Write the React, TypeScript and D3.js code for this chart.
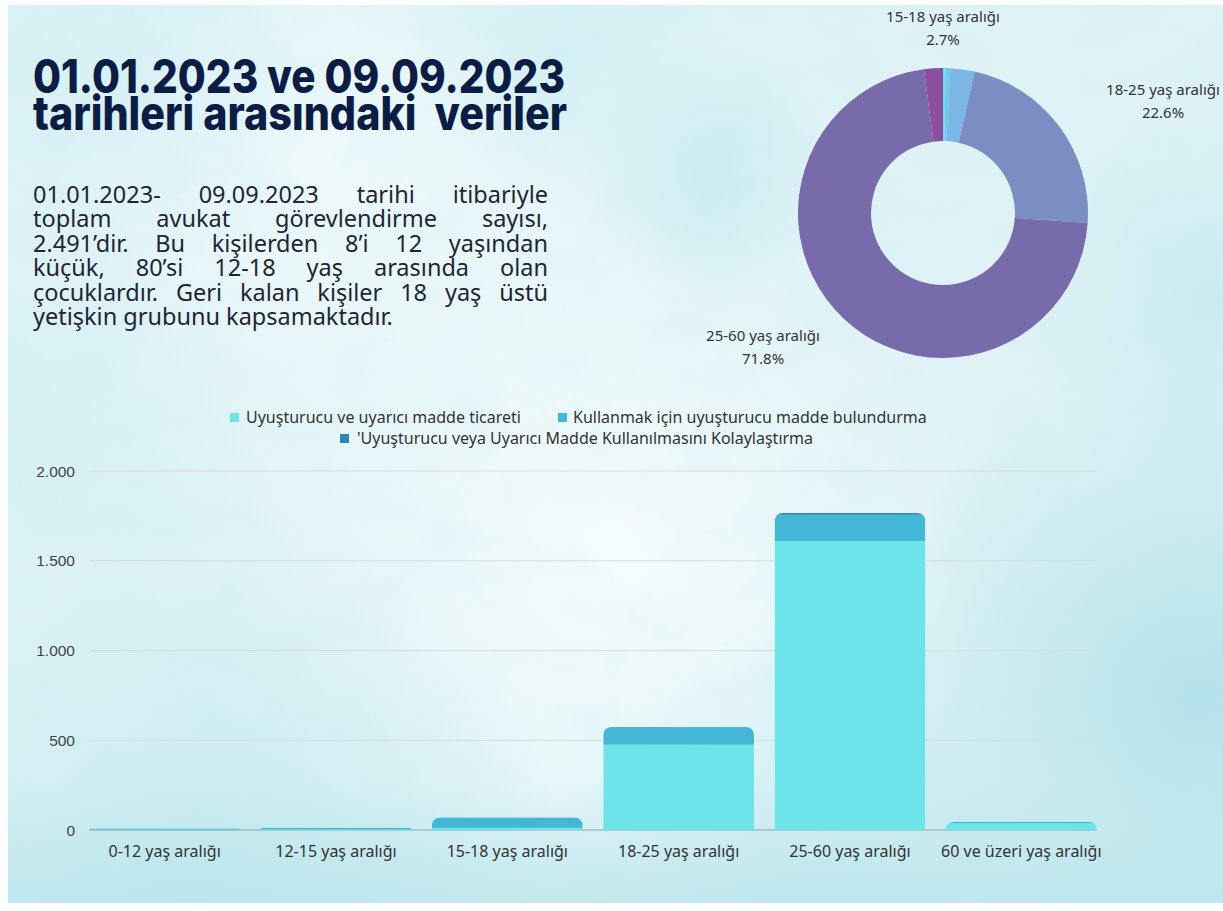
import React from "react";
import * as d3 from "d3";

// bar chart data
const categories = ["0-12 yaş aralığı", "12-15 yaş aralığı", "15-18 yaş aralığı", "18-25 yaş aralığı", "25-60 yaş aralığı", "60 ve üzeri yaş aralığı"];
const ticaret = [3, 4, 12, 475, 1610, 38];
const bulundurma = [5, 9, 56, 96, 146, 7];
const kolaylastirma = [0, 0, 2, 3, 10, 0];
const seriesNames = ["Uyuşturucu ve uyarıcı madde ticareti", "Kullanmak için uyuşturucu madde bulundurma", "'Uyuşturucu veya Uyarıcı Madde Kullanılmasını Kolaylaştırma"];
const yTicks = [0, 500, 1000, 1500, 2000];

// donut data (percent)
const pieLabels = ["0-12 yaş aralığı", "12-15 yaş aralığı", "15-18 yaş aralığı", "18-25 yaş aralığı", "25-60 yaş aralığı", "60 ve üzeri yaş aralığı"];
const pieShares = [0.3, 0.5, 2.7, 22.6, 71.8, 2.1];

const titleLines = ["01.01.2023 ve 09.09.2023", "tarihleri arasındaki  veriler"];
const paragraph = [
  "01.01.2023- 09.09.2023  tarihi itibariyle",
  "toplam avukat görevlendirme sayısı,",
  "2.491’dir. Bu kişilerden 8’i 12 yaşından",
  "küçük, 80’si 12-18 yaş arasında olan",
  "çocuklardır. Geri kalan kişiler 18 yaş üstü",
  "yetişkin grubunu kapsamaktadır.",
];

const barColors = ["#6ce4e8", "#42b8d6", "#2c86b6"];
const pieColors = ["#5fe2ee", "#6fc9ee", "#7ab7e6", "#7b8ec3", "#786bab", "#8c4f9f"];

const W = 1223, H = 911;
const fmt = d3.formatLocale({ decimal: ",", thousands: ".", grouping: [3], currency: ["", ""] }).format(",");

function measure(words: string[], font: string) {
  const c = document.createElement("canvas").getContext("2d")!;
  c.font = font;
  return words.map(w => c.measureText(w).width);
}

function Paragraph() {
  const fs = 23.5, x0 = 33, x1 = 548, y0 = 203, lh = 24.4;
  const font = `${fs}px "Noto Sans"`;
  return (
    <g fill="#1e2636" style={{ font }}>
      {paragraph.map((line, i) => {
        const words = line.split(/\s+/);
        const last = i === paragraph.length - 1;
        const ws = measure(words, font);
        const total = d3.sum(ws);
        const gap = last ? fs * 0.26 : (x1 - x0 - total) / (words.length - 1);
        let x = x0;
        return words.map((w, j) => {
          const el = <text key={i + "-" + j} x={x} y={y0 + i * lh}>{w}</text>;
          x += ws[j] + gap;
          return el;
        });
      })}
    </g>
  );
}

function Donut() {
  const cx = 943, cy = 213, ro = 145, ri = 72;
  const arcs = d3.pie<number>().sort(null).value(d => d)(pieShares);
  const arc = d3.arc<d3.PieArcDatum<number>>().innerRadius(ri).outerRadius(ro);
  const labels = [
    { i: 2, x: 943, y: 22 },
    { i: 3, x: 1163, y: 95 },
    { i: 4, x: 763, y: 341 },
  ];
  return (
    <g>
      <g transform={`translate(${cx},${cy})`}>
        {arcs.map((a, i) => (
          <path key={i} d={arc(a) || ""} fill={pieColors[i]} />
        ))}
      </g>
      <g style={{ font: '15px "Noto Sans"' }} fill="#333" textAnchor="middle">
        {labels.map(l => (
          <g key={l.i}>
            <text x={l.x} y={l.y}>{pieLabels[l.i]}</text>
            <text x={l.x} y={l.y + 23}>{pieShares[l.i].toFixed(1)}%</text>
          </g>
        ))}
      </g>
    </g>
  );
}

function Bars() {
  const x = d3.scaleBand().domain(categories).range([79, 1107]).paddingInner(0.12).paddingOuter(0.06);
  const y = d3.scaleLinear().domain([0, 2000]).range([830, 471]);
  const rows = categories.map((c, i) => ({ c, s0: ticaret[i], s1: bulundurma[i], s2: kolaylastirma[i] }));
  const stacked = d3.stack<any>().keys(["s0", "s1", "s2"])(rows);
  const gx0 = x(categories[0])!, gx1 = x(categories[5])! + x.bandwidth();
  return (
    <g>
      {yTicks.map(t => (
        <g key={t}>
          {t > 0 && <line x1={gx0} x2={gx1} y1={y(t)} y2={y(t)} stroke="#d3dcdf" strokeWidth={1.2} />}
          <text x={75} y={y(t) + 5.5} textAnchor="end" fill="#444" style={{ font: '15.5px "Liberation Sans"' }}>{fmt(t)}</text>
        </g>
      ))}
      <line x1={gx0} x2={gx1} y1={y(0)} y2={y(0)} stroke="#8fa6ad" strokeWidth={1.2} />
      <defs>
        {rows.map((r, i) => {
          const bx = x(r.c)!, bw = x.bandwidth();
          const top = y(r.s0 + r.s1 + r.s2), base = y(0);
          const rr = Math.min(9, base - top, bw / 2);
          return (
            <clipPath id={"bar" + i} key={i}>
              <path d={`M${bx},${base}V${top + rr}Q${bx},${top} ${bx + rr},${top}H${bx + bw - rr}Q${bx + bw},${top} ${bx + bw},${top + rr}V${base}Z`} />
            </clipPath>
          );
        })}
      </defs>
      {rows.map((r, i) => (
        <g key={r.c} clipPath={`url(#bar${i})`}>
          {stacked.map((s, k) => (
            <rect key={k} x={x(r.c)} width={x.bandwidth()} y={y(s[i][1])} height={Math.max(0, y(s[i][0]) - y(s[i][1]))} fill={barColors[k]} />
          ))}
        </g>
      ))}
      {categories.map(c => (
        <text key={c} x={x(c)! + x.bandwidth() / 2} y={857} textAnchor="middle" fill="#333" style={{ font: '16px "Noto Sans"' }}>{c}</text>
      ))}
      <g style={{ font: '16px "Noto Sans"' }} fill="#333">
        <rect x={230} y={413} width={9} height={9} fill={barColors[0]} />
        <text x={246} y={423}>{seriesNames[0]}</text>
        <rect x={558} y={413} width={9} height={9} fill={barColors[1]} />
        <text x={573} y={423}>{seriesNames[1]}</text>
        <rect x={340} y={434} width={9} height={9} fill={barColors[2]} />
        <text x={357} y={444}>{seriesNames[2]}</text>
      </g>
    </g>
  );
}

function Background() {
  const blobs = [
    { cx: 330, cy: 170, r: 380, c: "#f4fbfc", o: 0.75 },
    { cx: 610, cy: 560, r: 380, c: "#f7fcfd", o: 0.9 },
    { cx: 710, cy: 170, r: 130, c: "#bde7ee", o: 0.6 },
    { cx: 560, cy: 40, r: 160, c: "#c9ecf1", o: 0.6 },
    { cx: 1220, cy: 300, r: 200, c: "#bfe7ee", o: 0.7 },
    { cx: 1200, cy: 700, r: 340, c: "#acdfe8", o: 0.85 },
    { cx: 200, cy: 920, r: 380, c: "#bfe7ee", o: 0.85 },
    { cx: 850, cy: 930, r: 320, c: "#c3e9ef", o: 0.8 },
    { cx: 40, cy: 420, r: 220, c: "#d0eff3", o: 0.6 },
    { cx: 120, cy: 60, r: 220, c: "#cdeef3", o: 0.6 },
  ];
  return (
    <g>
      <defs>
        {blobs.map((b, i) => (
          <radialGradient key={i} id={"bg" + i}>
            <stop offset="0%" stopColor={b.c} stopOpacity={b.o} />
            <stop offset="100%" stopColor={b.c} stopOpacity={0} />
          </radialGradient>
        ))}
        <linearGradient id="bottomBand" x1="0" x2="0" y1="0" y2="1">
          <stop offset="0%" stopColor="#b9e5ec" stopOpacity={0} />
          <stop offset="100%" stopColor="#b9e5ec" stopOpacity={0.75} />
        </linearGradient>
        <filter id="grain" x="0" y="0" width="100%" height="100%">
          <feTurbulence type="fractalNoise" baseFrequency="0.012 0.02" numOctaves={4} seed={3} />
          <feColorMatrix values="0 0 0 0 0.55  0 0 0 0 0.82  0 0 0 0 0.87  0 0 0 1.1 -0.45" />
        </filter>
        <clipPath id="page"><rect x={8} y={5} width={W - 8} height={H - 13} /></clipPath>
      </defs>
      <rect width={W} height={H} fill="#fff" />
      <g clipPath="url(#page)">
        <rect x={8} y={5} width={W - 8} height={H - 13} fill="#dff3f6" />
        {blobs.map((b, i) => (
          <circle key={i} cx={b.cx} cy={b.cy} r={b.r} fill={`url(#bg${i})`} />
        ))}
        <rect x={8} y={780} width={W - 8} height={H - 788} fill="url(#bottomBand)" />
        <rect x={8} y={5} width={W - 8} height={H - 13} filter="url(#grain)" opacity={0.35} />
      </g>
    </g>
  );
}

export default function App() {
  return (
    <svg width={W} height={H} style={{ position: "absolute", left: 0, top: 0, display: "block" }}>
      <Background />
      <g fill="#0b1d45" style={{ font: '800 47px Inter' }}>
        <text x={33} y={93} textLength={532} lengthAdjust="spacingAndGlyphs">{titleLines[0]}</text>
        <text x={33} y={130} xmlSpace="preserve" textLength={534} lengthAdjust="spacingAndGlyphs">{titleLines[1]}</text>
      </g>
      <Paragraph />
      <Donut />
      <Bars />
    </svg>
  );
}
